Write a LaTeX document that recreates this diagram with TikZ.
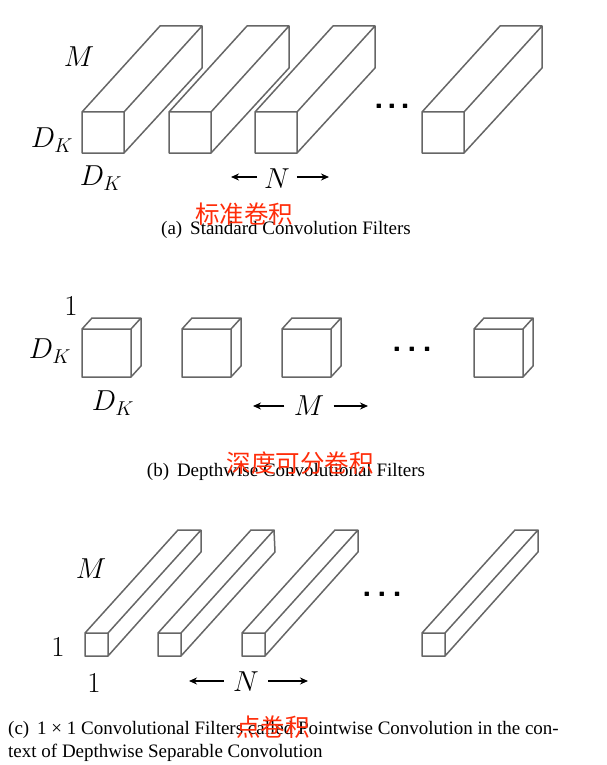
\documentclass[tikz,border=0pt]{standalone}
\usepackage{fontspec}
\setmainfont{Liberation Serif}
\newfontfamily\cjk{Noto Sans CJK SC}
\usetikzlibrary{arrows.meta}
\DeclareMathSizes{24.88}{24.88}{17.28}{12}
\definecolor{notered}{RGB}{255,45,10}
\tikzset{
	filterline/.style={line width=1.5pt, color=black!60, line join=round},
	dimarrow/.style={line width=1.3pt, -{Stealth[length=8pt,width=7pt]}, shorten <=1pt},
	dimlabel/.style={font=\fontsize{24.88pt}{30pt}\selectfont, inner sep=0pt, scale=1.16, transform shape},
	dotrow/.style={font=\fontsize{33pt}{34pt}\sffamily\bfseries\selectfont, inner sep=0pt},
	caption/.style={font=\fontsize{19pt}{23pt}\selectfont, inner sep=0pt},
	note/.style={font=\fontsize{24.5pt}{28pt}\cjk\selectfont, text=notered, inner sep=0pt}
}
\begin{document}
\begin{tikzpicture}[x=1pt, y=-1pt]
		\useasboundingbox (0,0) rectangle (606,765);
		
		% panel a
		\draw[filterline] (82,112) rectangle (124,153) (82,112) -- (160,26) -- (202,26) -- (202,68) -- (124,153) (124,112) -- (202,26);
		\draw[filterline] (169,112) rectangle (211,153) (169,112) -- (247,26) -- (289,26) -- (289,68) -- (211,153) (211,112) -- (289,26);
		\draw[filterline] (255,112) rectangle (297,153) (255,112) -- (333,26) -- (375,26) -- (375,68) -- (297,153) (297,112) -- (375,26);
		\draw[filterline] (422,112) rectangle (464,153) (422,112) -- (500,26) -- (542,26) -- (542,68) -- (464,153) (464,112) -- (542,26);
		
		\node[dimlabel] (ma) at (79,57) {$M$};
		\node[dimlabel] (dka) at (52,140) {$D_K$};
		\node[dimlabel] (dkb) at (101,178) {$D_K$};
		\node[dimlabel, inner xsep=5pt] (na) at (277,179) {$N$};
		\coordinate (nal) at (231,177);
		\coordinate (nar) at (329,177);
		\draw[dimarrow] (na.west |- nal) -- (nal);
		\draw[dimarrow] (na.east |- nar) -- (nar);
		\node[dotrow] (dotsa) at (392,106) {.\kern3pt.\kern3pt.};
		
		\node[caption] (capa) at (286,230) {(a)\, Standard Convolution Filters};
		\node[note] (notea) at (244,214) {标准卷积};
		
		% panel b
		\draw[filterline] (82,329) rectangle (131,377) (82,329) -- (92,318) -- (141,318) -- (141,366) -- (131,377) (131,329) -- (141,318);
		\draw[filterline] (182,329) rectangle (231,377) (182,329) -- (192,318) -- (241,318) -- (241,366) -- (231,377) (231,329) -- (241,318);
		\draw[filterline] (282,329) rectangle (331,377) (282,329) -- (292,318) -- (341,318) -- (341,366) -- (331,377) (331,329) -- (341,318);
		\draw[filterline] (474,329) rectangle (523,377) (474,329) -- (484,318) -- (533,318) -- (533,366) -- (523,377) (523,329) -- (533,318);
		
		\node[dimlabel] (oneb) at (71,306) {$1$};
		\node[dimlabel] (dkc) at (50,351) {$D_K$};
		\node[dimlabel] (dkd) at (113,403) {$D_K$};
		\node[dimlabel, inner xsep=7pt] (mb) at (309,406) {$M$};
		\coordinate (mbl) at (253,406);
		\coordinate (mbr) at (368,406);
		\draw[dimarrow] (mb.west |- mbl) -- (mbl);
		\draw[dimarrow] (mb.east |- mbr) -- (mbr);
		\node[dotrow] (dotsb) at (412,349) {.\kern5pt.\kern5pt.};
		
		\node[caption] (capb) at (286,472) {(b)\, Depthwise Convolutional Filters};
		\node[note] (noteb) at (300,463) {深度可分卷积};
		
		% panel c
		\draw[filterline] (85,633) rectangle (108,656) (85,633) -- (178,530) -- (201,530) -- (201,552) -- (108,656) (108,633) -- (201,530);
		\draw[filterline] (158,633) rectangle (181,656) (158,633) -- (251,530) -- (274,530) -- (275,552) -- (181,656) (181,633) -- (274,530);
		\draw[filterline] (242,633) rectangle (265,656) (242,633) -- (335,530) -- (358,530) -- (358,552) -- (265,656) (265,633) -- (358,530);
		\draw[filterline] (422,633) rectangle (445,656) (422,633) -- (515,530) -- (538,530) -- (538,552) -- (445,656) (445,633) -- (538,530);
		
		\node[dimlabel] (mc) at (91,569) {$M$};
		\node[dimlabel] (onec) at (58,647) {$1$};
		\node[dimlabel] (oned) at (94,683) {$1$};
		\node[dimlabel, inner xsep=7pt] (nc) at (246,682) {$N$};
		\coordinate (ncl) at (189,681);
		\coordinate (ncr) at (308,681);
		\draw[dimarrow] (nc.west |- ncl) -- (ncl);
		\draw[dimarrow] (nc.east |- ncr) -- (ncr);
		\node[dotrow] (dotsc) at (382,594) {.\kern5pt.\kern5pt.};
		
		\node[caption, anchor=base west] (capc) at (8,734) {(c)\, 1 × 1 Convolutional Filters called Pointwise Convolution in the con-};
		\node[caption, anchor=base west] (capd) at (8,757) {text of Depthwise Separable Convolution};
		\node[note] (notec) at (273,727) {点卷积};
		
	\end{tikzpicture}
\end{document}
